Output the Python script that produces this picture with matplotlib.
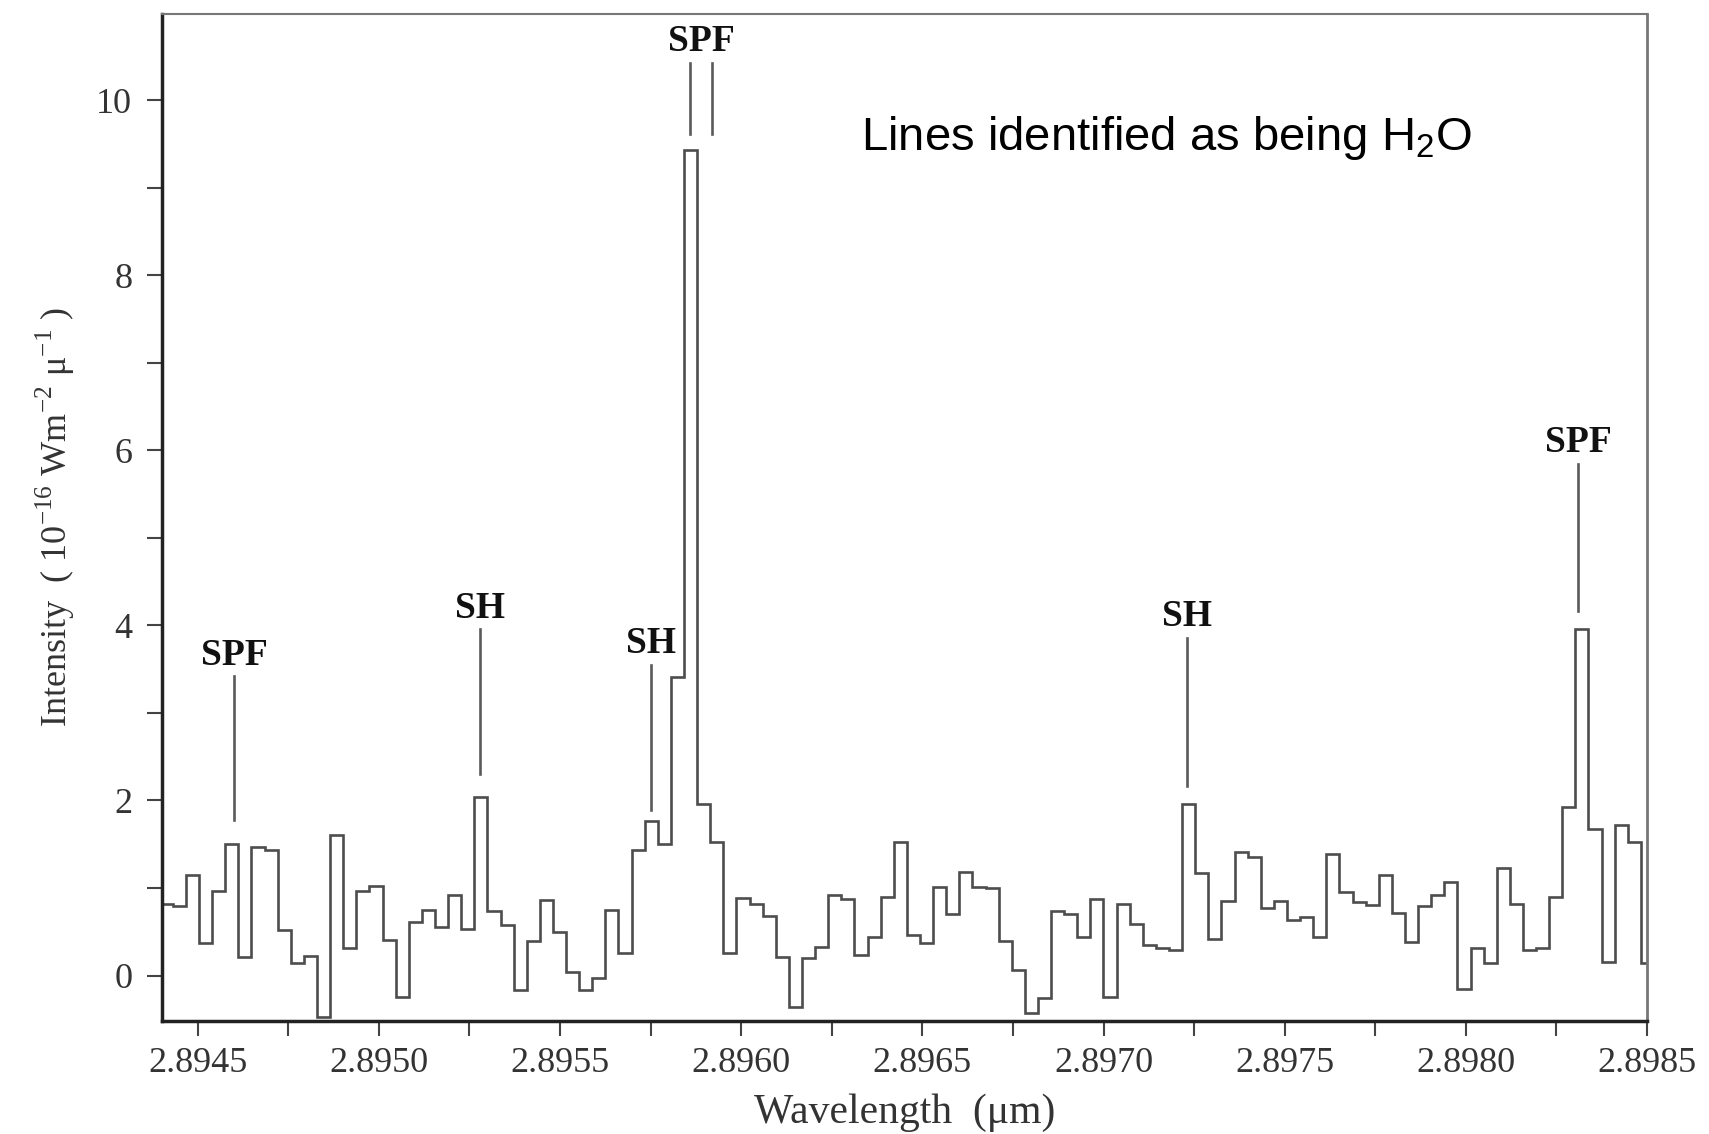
import numpy as np
import matplotlib.pyplot as plt
from matplotlib.ticker import MultipleLocator, FormatStrFormatter

# spectrum bins: left edge of the first bin and bin width (micron)
first_edge = 2.894395
bin_width = 3.618e-5

# intensity per bin, 1e-16 W m^-2 micron^-1
intensity = [
    0.82, 0.79, 1.15, 0.37, 0.97, 1.50, 0.21, 1.47, 1.43, 0.52,
    0.14, 0.22, -0.47, 1.60, 0.31, 0.97, 1.02, 0.41, -0.25, 0.61,
    0.75, 0.56, 0.92, 0.53, 2.04, 0.74, 0.58, -0.16, 0.39, 0.86,
    0.50, 0.04, -0.17, -0.03, 0.75, 0.26, 1.43, 1.77, 1.50, 3.41,
    9.43, 1.96, 1.52, 0.26, 0.89, 0.82, 0.68, 0.21, -0.36, 0.20,
    0.33, 0.92, 0.87, 0.23, 0.44, 0.90, 1.53, 0.46, 0.37, 1.01,
    0.70, 1.18, 1.01, 1.00, 0.40, 0.06, -0.43, -0.26, 0.74, 0.70,
    0.44, 0.87, -0.25, 0.82, 0.59, 0.35, 0.31, 0.29, 1.96, 1.17,
    0.42, 0.85, 1.41, 1.36, 0.77, 0.85, 0.63, 0.67, 0.44, 1.39,
    0.96, 0.84, 0.81, 1.15, 0.72, 0.38, 0.80, 0.92, 1.07, -0.15,
    0.31, 0.14, 1.23, 0.82, 0.29, 0.32, 0.90, 1.93, 3.96, 1.67,
    0.16, 1.72, 1.52, 0.14,
]

# identified lines
line_names = ["SPF", "SH", "SH", "SPF", "SH", "SPF"]
line_waves = [[2.89460], [2.89528], [2.89575], [2.89586, 2.89592], [2.89723], [2.89831]]
line_low = [1.78, 2.30, 1.89, 9.62, 2.17, 4.17]
line_high = [3.42, 3.96, 3.55, 10.43, 3.86, 5.85]

x_ticks = [2.8945, 2.8950, 2.8955, 2.8960, 2.8965, 2.8970, 2.8975, 2.8980, 2.8985]
y_ticks = [0, 2, 4, 6, 8, 10]

serif = "Liberation Serif"

edges = first_edge + bin_width * np.arange(len(intensity) + 1)

fig = plt.figure(figsize=(17.09, 11.34), dpi=100)
ax = fig.add_axes([0.0945, 0.0996, 0.8692, 0.8884])

ax.stairs(intensity, edges, baseline=None, color="#4d4d4d", lw=1.9)

for name, waves, lo, hi in zip(line_names, line_waves, line_low, line_high):
    for w in waves:
        ax.plot([w, w], [lo, hi], color="#5a5a5a", lw=1.9)
    ax.text(np.mean(waves), hi + 0.13, name, ha="center", va="baseline",
            fontsize=27, fontweight="bold", family=serif, color="#111111")

ax.text(2.89633, 9.43, r"Lines identified as being H$\mathregular{_2}$O",
        fontsize=34, family="Liberation Sans", va="baseline", color="black")

ax.set_xlim(2.8944, 2.8985)
ax.set_ylim(-0.52, 10.99)

ax.set_xticks(x_ticks)
ax.xaxis.set_major_formatter(FormatStrFormatter("%.4f"))
ax.xaxis.set_minor_locator(MultipleLocator(0.00025))
ax.set_yticks(y_ticks)
ax.yaxis.set_minor_locator(MultipleLocator(1))

ax.tick_params(which="both", direction="out", length=11, width=1.5, color="#444444")
ax.tick_params(axis="x", which="both", pad=8)
ax.tick_params(axis="y", which="both", pad=10)
for lab in ax.get_xticklabels() + ax.get_yticklabels():
    lab.set_family(serif)
    lab.set_fontsize(26)
    lab.set_color("#333333")

ax.set_xlabel("Wavelength  (μm)", family=serif, fontsize=30, color="#333333")
ax.xaxis.set_label_coords(0.5, -0.072)
ax.set_ylabel(r"Intensity  ( 10$^{\mathregular{-16}}$ Wm$^{\mathregular{-2}}$ μ$^{\mathregular{-1}}$ )",
              family=serif, fontsize=26, color="#333333")
ax.yaxis.set_label_coords(-0.057, 0.5)

ax.spines["left"].set_linewidth(2.5)
ax.spines["bottom"].set_linewidth(2.5)
ax.spines["left"].set_color("#222222")
ax.spines["bottom"].set_color("#222222")
ax.spines["top"].set_linewidth(1.5)
ax.spines["right"].set_linewidth(2)
ax.spines["top"].set_color("#777777")
ax.spines["right"].set_color("#777777")

fig.savefig("out.png", dpi=100)
